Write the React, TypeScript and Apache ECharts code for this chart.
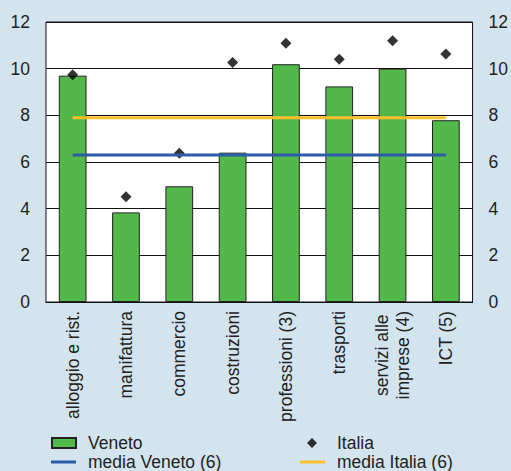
import React, { useEffect, useRef } from "react";
import * as echarts from "echarts";

const categories = [
  "alloggio e rist.",
  "manifattura",
  "commercio",
  "costruzioni",
  "professioni (3)",
  "trasporti",
  "servizi alle\nimprese (4)",
  "ICT (5)",
];
const veneto = [9.7, 3.84, 4.96, 6.4, 10.19, 9.24, 10.0, 7.79];
const italia = [9.74, 4.51, 6.37, 10.26, 11.09, 10.4, 11.2, 10.63];
const mediaVeneto = [6.3, 6.3, 6.3, 6.3, 6.3, 6.3, 6.3, 6.3];
const mediaItalia = [7.9, 7.9, 7.9, 7.9, 7.9, 7.9, 7.9, 7.9];

const FONT = "'Liberation Sans', Arial, Helvetica, sans-serif";
const BG = "#d3e4ee";
const GREEN = "#52b84a";
const BLUE = "#2a5ca8";
const ORANGE = "#fbbf2c";
const FS = 17.5;

export default function App() {
  const ref = useRef<HTMLDivElement>(null);
  useEffect(() => {
    if (!ref.current) return;
    document.body.style.margin = "0";
    const chart = echarts.init(ref.current, undefined, { renderer: "svg" });
    const yAxisCommon = {
      type: "value" as const,
      min: 0,
      max: 12,
      interval: 2,
      axisLine: { show: false },
      axisTick: { show: false },
      axisLabel: { fontSize: FS, color: "#222", fontFamily: FONT, margin: 16 },
    };
    const legendText = { fontSize: FS, lineHeight: 18, color: "#222", fontFamily: FONT };
    chart.setOption({
      animation: false,
      backgroundColor: BG,
      textStyle: { fontFamily: FONT },
      grid: {
        left: 46,
        right: 38,
        top: 22,
        bottom: 169,
        show: true,
        backgroundColor: "#ffffff",
        borderColor: "#111",
        borderWidth: 1,
        containLabel: false,
      },
      xAxis: {
        type: "category",
        data: categories,
        boundaryGap: true,
        axisLine: { show: true, lineStyle: { color: "#111", width: 1 } },
        axisTick: { show: false },
        axisLabel: {
          rotate: 90,
          interval: 0,
          fontSize: FS,
          lineHeight: 21,
          color: "#222",
          fontFamily: FONT,
          margin: 9,
          formatter: (v: string) =>
            v
              .split("\n")
              .map((s) => `{c|${s}}`)
              .join("\n"),
          rich: {
            c: {
              align: "center",
              fontSize: FS,
              lineHeight: 21,
              color: "#222",
              fontFamily: FONT,
            },
          },
        },
      },
      yAxis: [
        {
          ...yAxisCommon,
          position: "left",
          splitLine: { show: true, lineStyle: { color: "#111", width: 1 } },
        },
        {
          ...yAxisCommon,
          position: "right",
          splitLine: { show: false },
        },
      ],
      legend: [
        {
          data: [{ name: "Veneto", icon: "rect" }],
          left: 51,
          top: 434,
          itemWidth: 24,
          itemHeight: 10,
          itemGap: 0,
          padding: 0,
          textStyle: { ...legendText, padding: [0, 0, 0, 7] },
          selectedMode: false,
        },
        {
          data: [{ name: "Italia", icon: "diamond" }],
          left: 307,
          top: 434,
          itemWidth: 10,
          itemHeight: 10,
          padding: 0,
          textStyle: { ...legendText, padding: [0, 0, 0, 15] },
          selectedMode: false,
        },
        {
          data: [{ name: "media Veneto (6)", icon: "rect" }],
          left: 51,
          top: 453,
          itemWidth: 25,
          itemHeight: 3,
          padding: 0,
          textStyle: { ...legendText, padding: [0, 0, 0, 7] },
          selectedMode: false,
        },
        {
          data: [{ name: "media Italia (6)", icon: "rect" }],
          left: 300,
          top: 453,
          itemWidth: 25,
          itemHeight: 3,
          padding: 0,
          textStyle: { ...legendText, padding: [0, 0, 0, 7] },
          selectedMode: false,
        },
      ],
      series: [
        {
          name: "Veneto",
          type: "bar",
          data: veneto,
          barWidth: "52%",
          itemStyle: { color: GREEN, borderColor: "#222", borderWidth: 1 },
          z: 2,
        },
        {
          name: "Italia",
          type: "scatter",
          data: italia,
          symbol: "diamond",
          symbolSize: [11, 11],
          itemStyle: { color: "#000" },
          z: 3,
        },
        {
          name: "media Veneto (6)",
          type: "line",
          data: mediaVeneto,
          showSymbol: false,
          symbol: "none",
          lineStyle: { color: BLUE, width: 3 },
          itemStyle: { color: BLUE },
          z: 4,
        },
        {
          name: "media Italia (6)",
          type: "line",
          data: mediaItalia,
          showSymbol: false,
          symbol: "none",
          lineStyle: { color: ORANGE, width: 3 },
          itemStyle: { color: ORANGE },
          z: 4,
        },
      ],
    });
    return () => chart.dispose();
  }, []);
  return <div ref={ref} style={{ width: 511, height: 471 }} />;
}
